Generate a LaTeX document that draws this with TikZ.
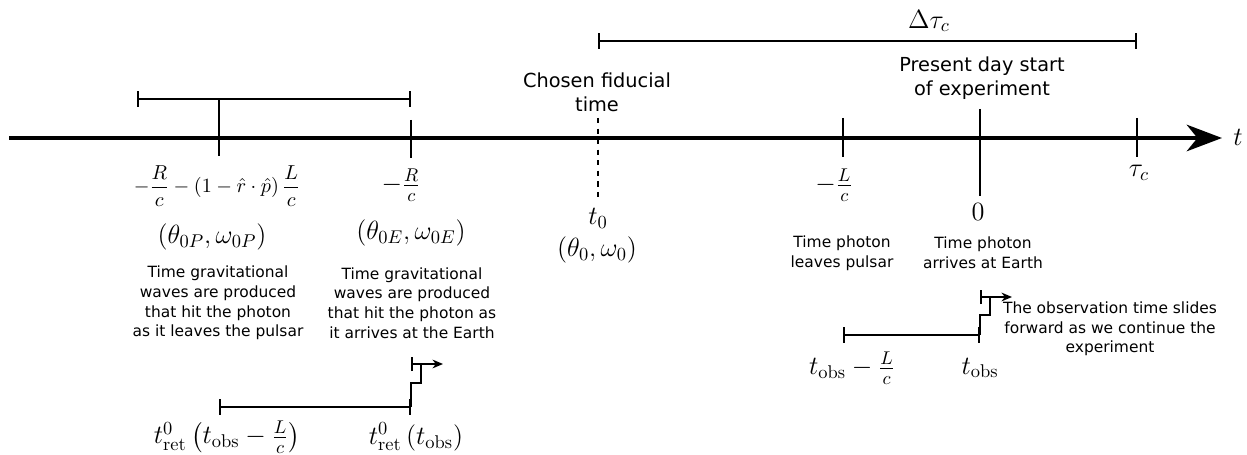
\RequirePackage{fix-cm}
\documentclass[tikz,border=0pt]{standalone}
\usepackage{amsmath}
\usepackage{fontspec}
\setsansfont{DejaVu Sans}
\usetikzlibrary{arrows.meta}

\tikzset{
  note/.style={font=\sffamily\fontsize{8.8}{11.2}\selectfont, align=center, inner sep=0pt},
  heading/.style={font=\sffamily\fontsize{11}{13.6}\selectfont, align=center, inner sep=0pt},
  biglbl/.style={font=\fontsize{15}{18}\selectfont, inner sep=0pt},
  fraclbl/.style={font=\fontsize{11.5}{14}\selectfont, inner sep=0pt},
  tickline/.style={line width=0.9pt},
  interval/.style={line width=0.9pt, {Bar[width=9pt]}-{Bar[width=9pt]}},
  slidearrow/.style={line width=0.9pt, {Bar[width=8pt]}-{Stealth[length=6pt,width=5pt]}},
}

\begin{document}
\begin{tikzpicture}[x=0.02cm, y=-0.02cm]

\useasboundingbox (0,0) rectangle (1247,455);

% time axis
\coordinate (axstart) at (9,138);
\coordinate (axend) at (1222,138);
\draw[line width=2.6pt, -{Stealth[length=20pt,width=15pt,inset=6pt]}] (axstart) -- (axend);
\node[biglbl] (taxis) at (1238,137) {$t$};

% ticks
\draw[tickline] (219,99) -- (219,156);
\draw[tickline] (411,120) -- (411,158);
\draw[tickline, dashed] (598,118) -- (598,197);
\draw[tickline] (843,118) -- (843,157);
\draw[tickline] (980,109) -- (980,196);
\draw[tickline] (1137,118) -- (1137,157);

% intervals above the axis
\coordinate (topL) at (137,99);
\coordinate (topR) at (411,99);
\draw[interval] (topL) -- (topR);
\coordinate (dtL) at (598,41);
\coordinate (dtR) at (1137,41);
\draw[interval] (dtL) -- (dtR);
\node[biglbl] (dtau) at (929,21) {$\Delta\tau_c$};

\node[heading] (fidtxt) at (597,92) {Chosen fiducial\\time};
\node[heading] (presenttxt) at (982,78) {Present day start\\of experiment};

% labels below the axis
\node[fraclbl] (fracP) at (217,186) {$\displaystyle -\frac{R}{c}-(1-\hat{r}\cdot\hat{p})\,\frac{L}{c}$};
\node[biglbl] (fracE) at (401,185) {$-\frac{R}{c}$};
\node[biglbl] (thP) at (212,237) {$(\theta_{0P},\omega_{0P})$};
\node[biglbl] (thE) at (411,233) {$(\theta_{0E},\omega_{0E})$};
\node[note] (txtP) at (218,303) {Time gravitational\\waves are produced\\that hit the photon\\as it leaves the pulsar};
\node[note] (txtE) at (412,303) {Time gravitational\\waves are produced\\that hit the photon as\\it arrives at the Earth};

\node[biglbl] (tzero) at (598,218) {$t_0$};
\node[biglbl] (thzero) at (597,250) {$(\theta_0,\omega_0)$};

\node[biglbl] (fracL) at (834,185) {$-\frac{L}{c}$};
\node[biglbl] (zerolbl) at (978,212) {$0$};
\node[biglbl] (taulbl) at (1139,173) {$\tau_c$};
\node[note] (leavetxt) at (842,253) {Time photon\\leaves pulsar};
\node[note] (arrivetxt) at (983,253) {Time photon\\arrives at Earth};

% retarded times
\coordinate (retL) at (219,407);
\coordinate (retR) at (411,407);
\draw[interval] (retL) -- (retR);
\coordinate (retS) at (411,364);
\coordinate (retT) at (443,364);
\draw[tickline] (retR) -- (411,383) -- (421,383) -- (421,364);
\draw[slidearrow] (retS) -- (retT);
\node[biglbl] (tretP) at (227,437) {$t^0_{\mathrm{ret}}\left(t_{\mathrm{obs}}-\frac{L}{c}\right)$};
\node[biglbl] (tretE) at (416,437) {$t^0_{\mathrm{ret}}\left(t_{\mathrm{obs}}\right)$};

% observation times
\coordinate (obsL) at (843,335);
\coordinate (obsR) at (980,335);
\draw[interval] (obsL) -- (obsR);
\coordinate (obsS) at (980,297);
\coordinate (obsT) at (1012,297);
\draw[tickline] (obsR) -- (980,315) -- (990,315) -- (990,297);
\draw[slidearrow] (obsS) -- (obsT);
\node[biglbl] (tobsL) at (852,368) {$t_{\mathrm{obs}}-\frac{L}{c}$};
\node[biglbl] (tobs) at (980,368) {$t_{\mathrm{obs}}$};
\node[note] (slidetxt) at (1110,329) {The observation time slides\\forward as we continue the\\experiment};

\end{tikzpicture}
\end{document}
